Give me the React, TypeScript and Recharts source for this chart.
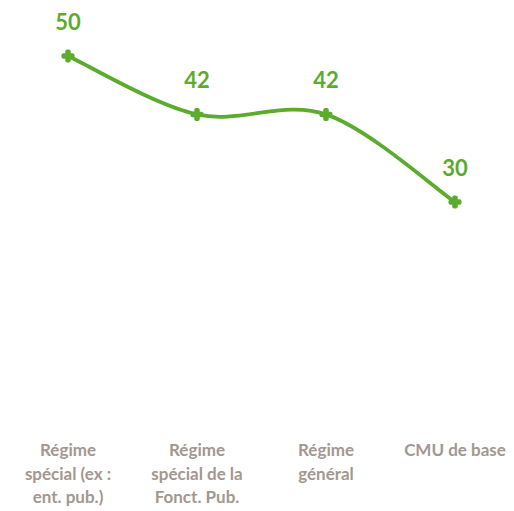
import React from 'react';
import { LineChart, Line, XAxis, YAxis, LabelList } from 'recharts';

const categories = ['Régime spécial (ex : ent. pub.)', 'Régime spécial de la Fonct. Pub.', 'Régime général', 'CMU de base'];
const categoryLines = [
  ['Régime', 'spécial (ex :', 'ent. pub.)'],
  ['Régime', 'spécial de la', 'Fonct. Pub.'],
  ['Régime', 'général'],
  ['CMU de base'],
];
const values = [50, 42, 42, 30];

const GREEN = '#5bab2d';
const GREY = '#a39790';

const data = categories.map((name, i) => ({ name, value: values[i] }));

// Excel-like smoothed line (Catmull-Rom as bezier)
const smoothCurve = (context: any) => {
  let pts: [number, number][] = [];
  return {
    areaStart() {},
    areaEnd() {},
    lineStart() {
      pts = [];
    },
    lineEnd() {
      const n = pts.length;
      if (!n) return;
      context.moveTo(pts[0][0], pts[0][1]);
      for (let i = 0; i < n - 1; i++) {
        const p0 = pts[Math.max(i - 1, 0)];
        const p1 = pts[i];
        const p2 = pts[i + 1];
        const p3 = pts[Math.min(i + 2, n - 1)];
        context.bezierCurveTo(
          p1[0] + (p2[0] - p0[0]) / 6,
          p1[1] + (p2[1] - p0[1]) / 6,
          p2[0] - (p3[0] - p1[0]) / 6,
          p2[1] - (p3[1] - p1[1]) / 6,
          p2[0],
          p2[1]
        );
      }
    },
    point(x: number, y: number) {
      pts.push([+x, +y]);
    },
  };
};

const PlusDot = (props: any) => {
  const { cx, cy } = props;
  if (cx == null || cy == null) return null;
  return (
    <g>
      <rect x={cx - 6.5} y={cy - 2.75} width={13} height={5.5} rx={2} fill={GREEN} />
      <rect x={cx - 2.75} y={cy - 6.5} width={5.5} height={13} rx={2} fill={GREEN} />
    </g>
  );
};

const CategoryTick = (props: any) => {
  const { x, y, payload } = props;
  const lines = categoryLines[payload.index] || [payload.value];
  return (
    <text x={x} y={y} textAnchor="middle" fill={GREY} fontSize={17} fontWeight="bold" fontFamily="Lato, sans-serif">
      {lines.map((l, i) => (
        <tspan key={i} x={x} y={y + 27 + i * 23.5}>
          {l}
        </tspan>
      ))}
    </text>
  );
};

export default function App() {
  return (
    <div style={{ position: 'fixed', left: 0, top: 0, width: 514, height: 511, overflow: 'hidden', background: '#fff' }}>
      <LineChart width={514} height={511} data={data} margin={{ top: 56, right: 0, left: 0, bottom: 0 }}>
        <XAxis
          dataKey="name"
          axisLine={false}
          tickLine={false}
          height={90}
          interval={0}
          padding={{ left: 68, right: 59 }}
          tick={<CategoryTick />}
        />
        <YAxis hide domain={[0, 50]} />
        <Line
          dataKey="value"
          type={smoothCurve as any}
          stroke={GREEN}
          strokeWidth={3.75}
          dot={<PlusDot />}
          activeDot={false}
          isAnimationActive={false}
        >
          <LabelList
            dataKey="value"
            position="top"
            offset={26}
            fill={GREEN}
            fontSize={22}
            fontWeight="bold"
            fontFamily="Lato, sans-serif"
          />
        </Line>
      </LineChart>
    </div>
  );
}
